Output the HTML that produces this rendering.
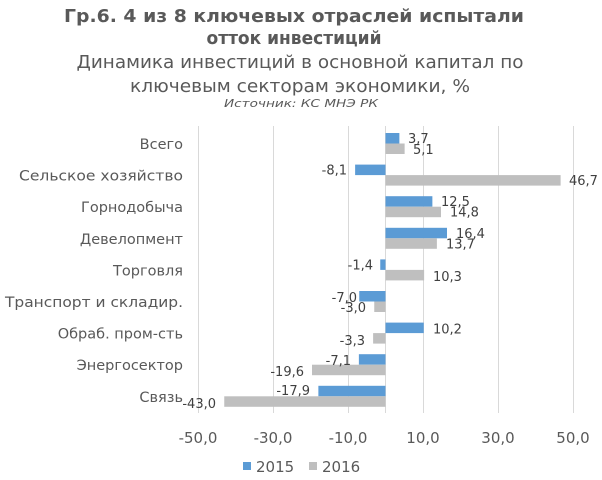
<!DOCTYPE html>
<html><head><meta charset="utf-8"><style>
body{margin:0;background:#fff;}
svg{display:block;font-family:"DejaVu Sans","Liberation Sans",sans-serif;}
</style></head><body>
<svg width="602" height="480" xmlns="http://www.w3.org/2000/svg">
<rect width="602" height="480" fill="#fff"/>
<g text-anchor="middle" fill="#595959">
<text x="294" y="22" font-size="18" font-weight="bold" textLength="460" lengthAdjust="spacingAndGlyphs">Гр.6. 4 из 8 ключевых отраслей испытали</text>
<text x="294" y="44" font-size="18" font-weight="bold" textLength="175" lengthAdjust="spacingAndGlyphs">отток инвестиций</text>
<text x="300" y="68" font-size="18" textLength="447" lengthAdjust="spacingAndGlyphs">Динамика инвестиций в основной капитал по</text>
<text x="300" y="92" font-size="18" textLength="340" lengthAdjust="spacingAndGlyphs">ключевым секторам экономики, %</text>
<text x="301" y="107" font-size="11" font-style="italic" textLength="154" lengthAdjust="spacingAndGlyphs">Источник: КС МНЭ РК</text>
</g>
<g stroke="#d9d9d9" stroke-width="1">
<line x1="198.5" y1="126" x2="198.5" y2="413"/>
<line x1="273.5" y1="126" x2="273.5" y2="413"/>
<line x1="348.5" y1="126" x2="348.5" y2="413"/>
<line x1="423.5" y1="126" x2="423.5" y2="413"/>
<line x1="498.5" y1="126" x2="498.5" y2="413"/>
<line x1="573.5" y1="126" x2="573.5" y2="413"/>
<line x1="385.5" y1="126" x2="385.5" y2="413"/>
</g>
<g font-size="14.5" fill="#595959" text-anchor="end">
<text x="183" y="149">Всего</text>
<text x="183" y="180.6" textLength="164" lengthAdjust="spacingAndGlyphs">Сельское хозяйство</text>
<text x="183" y="212.2">Горнодобыча</text>
<text x="183" y="243.8">Девелопмент</text>
<text x="183" y="275.4">Торговля</text>
<text x="183" y="307" textLength="178" lengthAdjust="spacingAndGlyphs">Транспорт и складир.</text>
<text x="183" y="338.6">Обраб. пром-сть</text>
<text x="183" y="370.2">Энергосектор</text>
<text x="183" y="401.8">Связь</text>
</g>
<g fill="#5b9bd5">
<rect x="385.5" y="133" width="13.875" height="10.5"/>
<rect x="355.125" y="164.6" width="30.375" height="10.5"/>
<rect x="385.5" y="196.2" width="46.875" height="10.5"/>
<rect x="385.5" y="227.8" width="61.5" height="10.5"/>
<rect x="380.25" y="259.4" width="5.25" height="10.5"/>
<rect x="359.25" y="291" width="26.25" height="10.5"/>
<rect x="385.5" y="322.6" width="38.25" height="10.5"/>
<rect x="358.875" y="354.2" width="26.625" height="10.5"/>
<rect x="318.375" y="385.8" width="67.125" height="10.5"/>
</g>
<g fill="#bfbfbf">
<rect x="385.5" y="143.5" width="19.125" height="10.5"/>
<rect x="385.5" y="175.1" width="175.125" height="10.5"/>
<rect x="385.5" y="206.7" width="55.5" height="10.5"/>
<rect x="385.5" y="238.3" width="51.375" height="10.5"/>
<rect x="385.5" y="269.9" width="38.625" height="10.5"/>
<rect x="374.25" y="301.5" width="11.25" height="10.5"/>
<rect x="373.125" y="333.1" width="12.375" height="10.5"/>
<rect x="312" y="364.7" width="73.5" height="10.5"/>
<rect x="224.25" y="396.3" width="161.25" height="10.5"/>
</g>
<g font-size="13" fill="#404040">
<text x="408" y="143">3,7</text>
<text x="413" y="154">5,1</text>
<text x="347" y="174.6" text-anchor="end">-8,1</text>
<text x="569" y="185.1">46,7</text>
<text x="441" y="206.2">12,5</text>
<text x="450" y="216.7">14,8</text>
<text x="456" y="237.8">16,4</text>
<text x="446" y="248.3">13,7</text>
<text x="373" y="269.4" text-anchor="end">-1,4</text>
<text x="433" y="281">10,3</text>
<text x="357" y="302" text-anchor="end">-7,0</text>
<text x="366" y="312" text-anchor="end">-3,0</text>
<text x="433" y="333.6">10,2</text>
<text x="365" y="345" text-anchor="end">-3,3</text>
<text x="351" y="365" text-anchor="end">-7,1</text>
<text x="304" y="376" text-anchor="end">-19,6</text>
<text x="310" y="395" text-anchor="end">-17,9</text>
<text x="216" y="408" text-anchor="end">-43,0</text>
</g>
<g font-size="15" fill="#595959" text-anchor="middle">
<text x="198" y="443">-50,0</text><text x="273" y="443">-30,0</text><text x="348" y="443">-10,0</text>
<text x="423" y="443">10,0</text><text x="498" y="443">30,0</text><text x="573" y="443">50,0</text>
</g>
<rect x="243" y="462" width="8" height="8" fill="#5b9bd5"/>
<text x="256" y="472" font-size="15" fill="#595959">2015</text>
<rect x="309" y="462" width="8" height="8" fill="#bfbfbf"/>
<text x="322" y="472" font-size="15" fill="#595959">2016</text>
</svg>
</body></html>
